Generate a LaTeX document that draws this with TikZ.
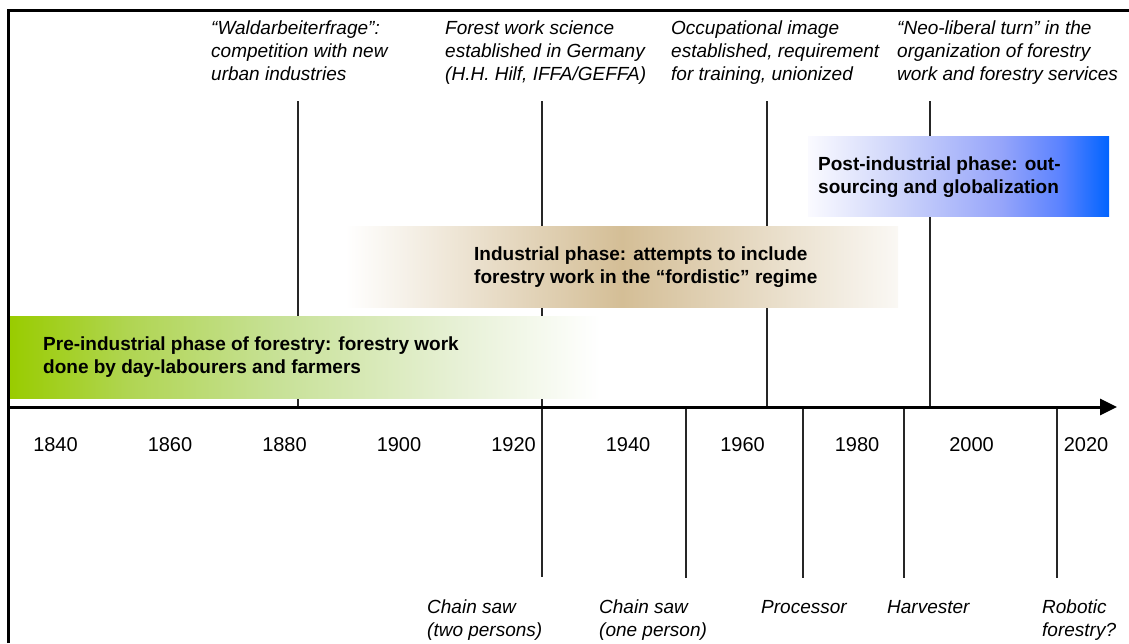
\documentclass[tikz,border=0pt]{standalone}
\usepackage{fontspec}
\setmainfont{Liberation Sans}
\usetikzlibrary{arrows.meta}

% phase colours
\definecolor{gA}{RGB}{153,204,0}
\definecolor{gB}{RGB}{176,213,82}
\definecolor{gC}{RGB}{199,225,150}
\definecolor{gD}{RGB}{230,240,212}
\definecolor{tanC}{RGB}{212,190,150}
\definecolor{tanE}{RGB}{250,248,244}
\definecolor{bA}{RGB}{250,250,255}
\definecolor{bB}{RGB}{205,212,250}
\definecolor{bC}{RGB}{150,165,250}
\definecolor{bD}{RGB}{90,130,255}
\definecolor{bE}{RGB}{0,100,255}

% a filled path spans 25bp..75bp of a 100bp horizontal shading
\pgfdeclarehorizontalshading{preshade}{100bp}{color(0bp)=(gA); color(25bp)=(gA); color(35bp)=(gB); color(47.5bp)=(gC); color(62.5bp)=(gD); color(75bp)=(white); color(100bp)=(white)}
\pgfdeclarehorizontalshading{indshade}{100bp}{color(0bp)=(white); color(25bp)=(white); color(50bp)=(tanC); color(75bp)=(tanE); color(100bp)=(tanE)}
\pgfdeclarehorizontalshading{postshade}{100bp}{color(0bp)=(bA); color(25bp)=(bA); color(40bp)=(bB); color(57bp)=(bC); color(67bp)=(bD); color(75bp)=(bE); color(100bp)=(bE)}

\newcommand\firststrut{\rule{0pt}{18pt}}

\tikzset{
  frameline/.style={line width=3pt, draw=black},
  timeaxis/.style={line width=3pt, draw=black, -{Triangle[length=17pt,width=16pt]}},
  eventline/.style={line width=1.2pt, draw=black!85},
  phasebar/.style={draw=none, inner sep=0pt, anchor=north west},
  note/.style={font=\itshape\fontsize{19}{23}\selectfont, align=left, anchor=north west, inner sep=0pt},
  phase/.style={font=\bfseries\fontsize{19}{23}\selectfont, align=left, anchor=north west, inner sep=0pt},
  year/.style={font=\fontsize{20}{24}\selectfont, anchor=base, inner sep=0pt}
}

\begin{document}
\begin{tikzpicture}[x=1pt,y=-1pt]
\useasboundingbox (0,0) rectangle (1129,643);

% outer frame (left and top)
\coordinate (frBL) at (8,643);
\coordinate (frTL) at (8,10);
\coordinate (frTR) at (1129,10);
\draw[frameline] (frBL) -- (frTL) -- (frTR);

% event lines above the axis
\coordinate (e1t) at (298,101);  \coordinate (e1b) at (298,407);
\coordinate (e2t) at (542,101);  \coordinate (e2b) at (542,577);
\coordinate (e3t) at (767,101);  \coordinate (e3b) at (767,407);
\coordinate (e4t) at (930,101);  \coordinate (e4b) at (930,407);
% technology lines below the axis
\coordinate (t2t) at (686,407);  \coordinate (t2b) at (686,578);
\coordinate (t3t) at (803,407);  \coordinate (t3b) at (803,578);
\coordinate (t4t) at (904,407);  \coordinate (t4b) at (904,578);
\coordinate (t5t) at (1057,407); \coordinate (t5b) at (1057,578);

\draw[eventline] (e1t) -- (e1b);
\draw[eventline] (e2t) -- (e2b);
\draw[eventline] (e3t) -- (e3b);
\draw[eventline] (e4t) -- (e4b);
\draw[eventline] (t2t) -- (t2b);
\draw[eventline] (t3t) -- (t3b);
\draw[eventline] (t4t) -- (t4b);
\draw[eventline] (t5t) -- (t5b);

% phase bars
\node[phasebar, shading=preshade, minimum width=590pt, minimum height=82pt] (prebar) at (10,316) {};
\node[phasebar, shading=indshade, minimum width=553pt, minimum height=81pt] (indbar) at (345,226) {};
\node[phasebar, shading=postshade, minimum width=301pt, minimum height=80pt] (postbar) at (808,136) {};

\node[phase] (pretext) at (43,332) {\firststrut Pre-industrial phase of forestry: forestry work\\done by day-labourers and farmers};
\node[phase] (indtext) at (474,242) {\firststrut Industrial phase: attempts to include\\forestry work in the “fordistic” regime};
\node[phase] (posttext) at (818,152) {\firststrut Post-industrial phase: out-\\sourcing and globalization};

% time axis
\coordinate (axL) at (8,407);
\coordinate (axR) at (1117,407);
\draw[timeaxis] (axL) -- (axR);

% years
\node[year] (y1840) at (55.5,451) {1840};
\node[year] (y1860) at (170,451) {1860};
\node[year] (y1880) at (284.5,451) {1880};
\node[year] (y1900) at (399,451) {1900};
\node[year] (y1920) at (513.5,451) {1920};
\node[year] (y1940) at (628,451) {1940};
\node[year] (y1960) at (742.5,451) {1960};
\node[year] (y1980) at (857,451) {1980};
\node[year] (y2000) at (971.5,451) {2000};
\node[year] (y2020) at (1086,451) {2020};

% social and organisational events
\node[note] (n1) at (211,16) {\firststrut “Waldarbeiterfrage”:\\competition with new\\urban industries};
\node[note] (n2) at (445,16) {\firststrut Forest work science\\established in Germany\\(H.H. Hilf, IFFA/GEFFA)};
\node[note] (n3) at (671,16) {\firststrut Occupational image\\established, requirement\\for training, unionized};
\node[note] (n4) at (897,16) {\firststrut “Neo-liberal turn” in the\\organization of forestry\\work and forestry services};

% technology
\node[note] (m1) at (427,595) {\firststrut Chain saw\\(two persons)};
\node[note] (m2) at (599,595) {\firststrut Chain saw\\(one person)};
\node[note] (m3) at (761,595) {\firststrut Processor};
\node[note] (m4) at (887,595) {\firststrut Harvester};
\node[note] (m5) at (1042,595) {\firststrut Robotic\\forestry?};
\end{tikzpicture}
\end{document}
